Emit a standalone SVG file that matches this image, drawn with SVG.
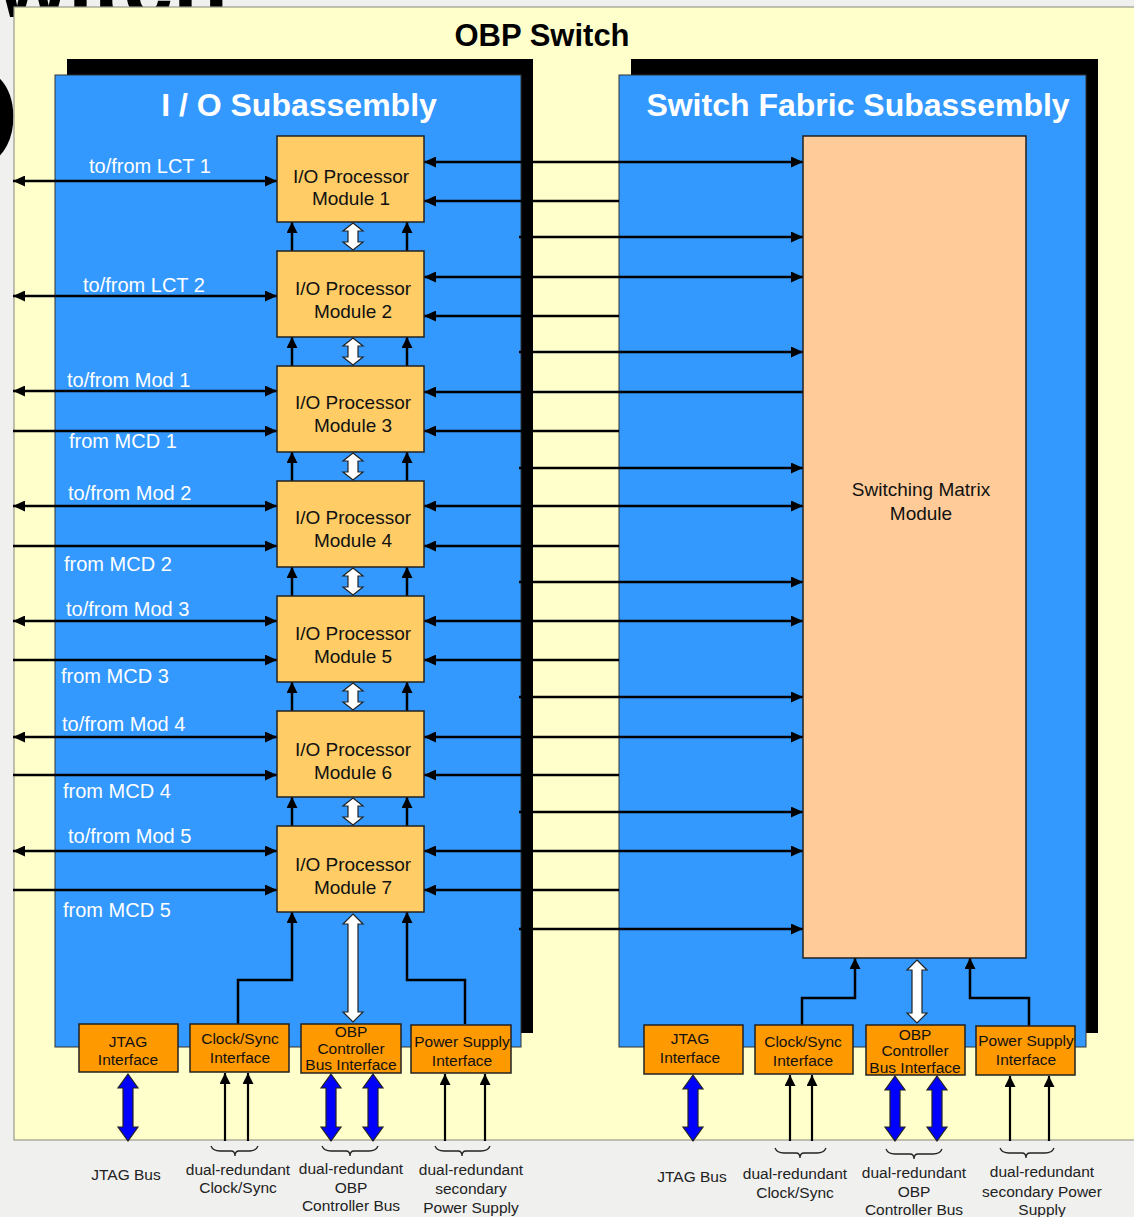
<svg xmlns="http://www.w3.org/2000/svg" width="1134" height="1217" viewBox="0 0 1134 1217">
<style>
text{font-family:"Liberation Sans",Arial,sans-serif}
.ln{stroke:#000;stroke-width:2.5;fill:none}
.lnt{stroke:#000;stroke-width:2.2;fill:none}
.panel{fill:#3399FF;stroke:#333;stroke-width:1}
.shadow{fill:#000}
.mod{fill:#FFCC66;stroke:#222;stroke-width:1.5}
.ifc{fill:#FF9900;stroke:#222;stroke-width:1.5}
.mt{font-size:19px;fill:#111;text-anchor:middle}
.it{font-size:15.5px;fill:#111;text-anchor:middle}
.lbl{font-size:20px;fill:#fff}
.bl{font-size:15.5px;fill:#222;text-anchor:middle}
.wa{fill:#fff;stroke:#222;stroke-width:1.2}
.ba{fill:#0000FF;stroke:#222;stroke-width:1.2}
.br{fill:none;stroke:#222;stroke-width:1.3}
</style>
<defs>
<marker id="ah" viewBox="0 0 12 11" refX="12" refY="5.5" markerWidth="12" markerHeight="11" markerUnits="userSpaceOnUse" orient="auto-start-reverse"><path d="M0,0 L12,5.5 L0,11 z" fill="#000"/></marker>
<marker id="ahs" viewBox="0 0 11 11" refX="11" refY="5.5" markerWidth="11" markerHeight="11" markerUnits="userSpaceOnUse" orient="auto-start-reverse"><path d="M0,0 L11,5.5 L0,11 z" fill="#000"/></marker>
</defs>
<rect x="0" y="0" width="1134" height="1217" fill="#F0F0EF"/>
<text x="-2" y="17" font-size="90" font-weight="bold" fill="#000">witch</text>
<text x="-97" y="170" font-size="150" font-weight="bold" fill="#000">O</text>
<rect x="14" y="7" width="1130" height="1133" fill="#FFFFCC" stroke="#9a9a8a" stroke-width="1.2"/>
<text x="542" y="46" font-size="31" font-weight="bold" fill="#000" text-anchor="middle">OBP Switch</text>

<g id="io-subassembly">
<rect class="shadow" x="67" y="59" width="466" height="974"/>
<rect class="panel" x="55" y="75" width="466" height="972"/>
<text x="299" y="116" font-size="32" font-weight="bold" fill="#fff" text-anchor="middle">I / O Subassembly</text>
</g>
<g id="switch-fabric-subassembly">
<rect class="shadow" x="631" y="59" width="467" height="974"/>
<rect class="panel" x="619" y="75" width="467" height="972"/>
<text x="858" y="116" font-size="32" font-weight="bold" fill="#fff" text-anchor="middle">Switch Fabric Subassembly</text>
</g>

<g id="side-labels">
<text class="lbl" x="89" y="173">to/from LCT 1</text>
<text class="lbl" x="83" y="292">to/from LCT 2</text>
<text class="lbl" x="67" y="387">to/from Mod 1</text>
<text class="lbl" x="69" y="448">from MCD 1</text>
<text class="lbl" x="68" y="500">to/from Mod 2</text>
<text class="lbl" x="64" y="571">from MCD 2</text>
<text class="lbl" x="66" y="616">to/from Mod 3</text>
<text class="lbl" x="61" y="683">from MCD 3</text>
<text class="lbl" x="62" y="731">to/from Mod 4</text>
<text class="lbl" x="63" y="798">from MCD 4</text>
<text class="lbl" x="68" y="843">to/from Mod 5</text>
<text class="lbl" x="63" y="917">from MCD 5</text>
</g>

<g id="connectors">
<!-- left external lines -->
<line class="ln" x1="13" y1="181" x2="277" y2="181" marker-start="url(#ah)" marker-end="url(#ah)"/>
<line class="ln" x1="13" y1="296" x2="277" y2="296" marker-start="url(#ah)" marker-end="url(#ah)"/>
<line class="ln" x1="13" y1="391" x2="277" y2="391" marker-start="url(#ah)" marker-end="url(#ah)"/>
<line class="ln" x1="13" y1="431" x2="277" y2="431" marker-end="url(#ah)"/>
<line class="ln" x1="13" y1="506" x2="277" y2="506" marker-start="url(#ah)" marker-end="url(#ah)"/>
<line class="ln" x1="13" y1="546" x2="277" y2="546" marker-end="url(#ah)"/>
<line class="ln" x1="13" y1="621" x2="277" y2="621" marker-start="url(#ah)" marker-end="url(#ah)"/>
<line class="ln" x1="13" y1="660" x2="277" y2="660" marker-end="url(#ah)"/>
<line class="ln" x1="13" y1="737" x2="277" y2="737" marker-start="url(#ah)" marker-end="url(#ah)"/>
<line class="ln" x1="13" y1="775" x2="277" y2="775" marker-end="url(#ah)"/>
<line class="ln" x1="13" y1="851" x2="277" y2="851" marker-start="url(#ah)" marker-end="url(#ah)"/>
<line class="ln" x1="13" y1="890" x2="277" y2="890" marker-end="url(#ah)"/>
<!-- module to switch matrix -->
<line class="ln" x1="424" y1="162" x2="803" y2="162" marker-start="url(#ah)" marker-end="url(#ah)"/>
<line class="ln" x1="619" y1="201" x2="424" y2="201" marker-end="url(#ah)"/>
<line class="ln" x1="519" y1="237" x2="803" y2="237" marker-end="url(#ah)"/>
<line class="ln" x1="424" y1="277" x2="803" y2="277" marker-start="url(#ah)" marker-end="url(#ah)"/>
<line class="ln" x1="619" y1="316" x2="424" y2="316" marker-end="url(#ah)"/>
<line class="ln" x1="519" y1="352" x2="803" y2="352" marker-end="url(#ah)"/>
<line class="ln" x1="803" y1="392" x2="424" y2="392" marker-end="url(#ah)"/>
<line class="ln" x1="619" y1="431" x2="424" y2="431" marker-end="url(#ah)"/>
<line class="ln" x1="519" y1="468" x2="803" y2="468" marker-end="url(#ah)"/>
<line class="ln" x1="424" y1="506" x2="803" y2="506" marker-start="url(#ah)" marker-end="url(#ah)"/>
<line class="ln" x1="619" y1="546" x2="424" y2="546" marker-end="url(#ah)"/>
<line class="ln" x1="519" y1="582" x2="803" y2="582" marker-end="url(#ah)"/>
<line class="ln" x1="424" y1="621" x2="803" y2="621" marker-start="url(#ah)" marker-end="url(#ah)"/>
<line class="ln" x1="619" y1="660" x2="424" y2="660" marker-end="url(#ah)"/>
<line class="ln" x1="519" y1="697" x2="803" y2="697" marker-end="url(#ah)"/>
<line class="ln" x1="424" y1="737" x2="803" y2="737" marker-start="url(#ah)" marker-end="url(#ah)"/>
<line class="ln" x1="619" y1="775" x2="424" y2="775" marker-end="url(#ah)"/>
<line class="ln" x1="519" y1="812" x2="803" y2="812" marker-end="url(#ah)"/>
<line class="ln" x1="424" y1="851" x2="803" y2="851" marker-start="url(#ah)" marker-end="url(#ah)"/>
<line class="ln" x1="619" y1="890" x2="424" y2="890" marker-end="url(#ah)"/>
<line class="ln" x1="519" y1="929" x2="803" y2="929" marker-end="url(#ah)"/>
<!-- between modules -->
<line class="ln" x1="292" y1="251" x2="292" y2="222" marker-end="url(#ahs)"/>
<line class="ln" x1="407" y1="251" x2="407" y2="222" marker-end="url(#ahs)"/>
<line class="ln" x1="292" y1="366" x2="292" y2="337" marker-end="url(#ahs)"/>
<line class="ln" x1="407" y1="366" x2="407" y2="337" marker-end="url(#ahs)"/>
<line class="ln" x1="292" y1="481" x2="292" y2="452" marker-end="url(#ahs)"/>
<line class="ln" x1="407" y1="481" x2="407" y2="452" marker-end="url(#ahs)"/>
<line class="ln" x1="292" y1="596" x2="292" y2="567" marker-end="url(#ahs)"/>
<line class="ln" x1="407" y1="596" x2="407" y2="567" marker-end="url(#ahs)"/>
<line class="ln" x1="292" y1="711" x2="292" y2="682" marker-end="url(#ahs)"/>
<line class="ln" x1="407" y1="711" x2="407" y2="682" marker-end="url(#ahs)"/>
<line class="ln" x1="292" y1="826" x2="292" y2="797" marker-end="url(#ahs)"/>
<line class="ln" x1="407" y1="826" x2="407" y2="797" marker-end="url(#ahs)"/>
<polygon class="wa" points="353,223 363,231 358,231 358,242 363,242 353,250 343,242 348,242 348,231 343,231"/>
<polygon class="wa" points="353,338 363,346 358,346 358,357 363,357 353,365 343,357 348,357 348,346 343,346"/>
<polygon class="wa" points="353,453 363,461 358,461 358,472 363,472 353,480 343,472 348,472 348,461 343,461"/>
<polygon class="wa" points="353,568 363,576 358,576 358,587 363,587 353,595 343,587 348,587 348,576 343,576"/>
<polygon class="wa" points="353,683 363,691 358,691 358,702 363,702 353,710 343,702 348,702 348,691 343,691"/>
<polygon class="wa" points="353,798 363,806 358,806 358,817 363,817 353,825 343,817 348,817 348,806 343,806"/>
<!-- interfaces to module 7 / matrix -->
<path class="ln" d="M238,1024 V980 H292 V912" marker-end="url(#ahs)"/>
<path class="ln" d="M465,1024 V980 H407 V912" marker-end="url(#ahs)"/>
<polygon class="wa" points="353,914 363,924 358,924 358,1012 363,1012 353,1022 343,1012 348,1012 348,924 343,924"/>
<path class="ln" d="M802,1025 V998 H855 V958" marker-end="url(#ahs)"/>
<path class="ln" d="M1029,1026 V998 H970 V958" marker-end="url(#ahs)"/>
<polygon class="wa" points="917,960 927,970 922,970 922,1013 927,1013 917,1023 907,1013 912,1013 912,970 907,970"/>
<!-- external bottom arrows -->
<polygon class="ba" points="128,1074 138,1088 133,1088 133,1127 138,1127 128,1141 118,1127 123,1127 123,1088 118,1088"/>
<line class="lnt" x1="225" y1="1141" x2="225" y2="1073" marker-end="url(#ahs)"/>
<line class="lnt" x1="248" y1="1141" x2="248" y2="1073" marker-end="url(#ahs)"/>
<polygon class="ba" points="331,1074 341,1088 336,1088 336,1127 341,1127 331,1141 321,1127 326,1127 326,1088 321,1088"/>
<polygon class="ba" points="373,1074 383,1088 378,1088 378,1127 383,1127 373,1141 363,1127 368,1127 368,1088 363,1088"/>
<line class="lnt" x1="445" y1="1141" x2="445" y2="1074" marker-end="url(#ahs)"/>
<line class="lnt" x1="485" y1="1141" x2="485" y2="1074" marker-end="url(#ahs)"/>
<polygon class="ba" points="693,1075 703,1089 698,1089 698,1127 703,1127 693,1141 683,1127 688,1127 688,1089 683,1089"/>
<line class="lnt" x1="790" y1="1141" x2="790" y2="1075" marker-end="url(#ahs)"/>
<line class="lnt" x1="812" y1="1141" x2="812" y2="1075" marker-end="url(#ahs)"/>
<polygon class="ba" points="895,1076 905,1090 900,1090 900,1127 905,1127 895,1141 885,1127 890,1127 890,1090 885,1090"/>
<polygon class="ba" points="937,1076 947,1090 942,1090 942,1127 947,1127 937,1141 927,1127 932,1127 932,1090 927,1090"/>
<line class="lnt" x1="1010" y1="1141" x2="1010" y2="1076" marker-end="url(#ahs)"/>
<line class="lnt" x1="1049" y1="1141" x2="1049" y2="1076" marker-end="url(#ahs)"/>
<!-- braces -->
<path class="br" d="M211,1146 Q213,1151 220,1151 L231,1151 Q235,1151 235,1156 Q235,1151 239,1151 L250,1151 Q256,1151 258,1146"/>
<path class="br" d="M322,1146 Q324,1151 331,1151 L346,1151 Q350,1151 350,1156 Q350,1151 354,1151 L369,1151 Q376,1151 378,1146"/>
<path class="br" d="M435,1146 Q437,1151 444,1151 L458,1151 Q462,1151 462,1156 Q462,1151 466,1151 L481,1151 Q488,1151 490,1146"/>
<path class="br" d="M775,1148 Q777,1153 784,1153 L796,1153 Q800,1153 800,1158 Q800,1153 804,1153 L817,1153 Q824,1153 826,1148"/>
<path class="br" d="M886,1149 Q888,1154 895,1154 L910,1154 Q914,1154 914,1159 Q914,1154 918,1154 L933,1154 Q940,1154 942,1149"/>
<path class="br" d="M1000,1148 Q1002,1153 1009,1153 L1022,1153 Q1026,1153 1026,1158 Q1026,1153 1030,1153 L1045,1153 Q1052,1153 1054,1148"/>
</g>

<g id="io-module-1"><rect class="mod" x="277" y="136" width="147" height="86"/><text class="mt" x="351" y="183">I/O Processor</text><text class="mt" x="351" y="205">Module 1</text></g>
<g id="io-module-2"><rect class="mod" x="277" y="251" width="147" height="86"/><text class="mt" x="353" y="295">I/O Processor</text><text class="mt" x="353" y="318">Module 2</text></g>
<g id="io-module-3"><rect class="mod" x="277" y="366" width="147" height="86"/><text class="mt" x="353" y="409">I/O Processor</text><text class="mt" x="353" y="432">Module 3</text></g>
<g id="io-module-4"><rect class="mod" x="277" y="481" width="147" height="86"/><text class="mt" x="353" y="524">I/O Processor</text><text class="mt" x="353" y="547">Module 4</text></g>
<g id="io-module-5"><rect class="mod" x="277" y="596" width="147" height="86"/><text class="mt" x="353" y="640">I/O Processor</text><text class="mt" x="353" y="663">Module 5</text></g>
<g id="io-module-6"><rect class="mod" x="277" y="711" width="147" height="86"/><text class="mt" x="353" y="756">I/O Processor</text><text class="mt" x="353" y="779">Module 6</text></g>
<g id="io-module-7"><rect class="mod" x="277" y="826" width="147" height="86"/><text class="mt" x="353" y="871">I/O Processor</text><text class="mt" x="353" y="894">Module 7</text></g>

<g id="switching-matrix"><rect x="803" y="136" width="223" height="822" fill="#FFCC99" stroke="#222" stroke-width="1.5"/><text class="mt" x="921" y="496">Switching Matrix</text><text class="mt" x="921" y="520">Module</text></g>

<g id="io-jtag"><rect class="ifc" x="79" y="1024" width="99" height="48"/><text class="it" x="128" y="1047">JTAG</text><text class="it" x="128" y="1065">Interface</text></g>
<g id="io-clock"><rect class="ifc" x="190" y="1024" width="99" height="48"/><text class="it" x="240" y="1044">Clock/Sync</text><text class="it" x="240" y="1063">Interface</text></g>
<g id="io-obp"><rect class="ifc" x="301" y="1024" width="100" height="49"/><text class="it" x="351" y="1037">OBP</text><text class="it" x="351" y="1054">Controller</text><text class="it" x="351" y="1070">Bus Interface</text></g>
<g id="io-power"><rect class="ifc" x="411" y="1025" width="100" height="48"/><text class="it" x="462" y="1047">Power Supply</text><text class="it" x="462" y="1066">Interface</text></g>

<g id="sf-jtag"><rect class="ifc" x="644" y="1025" width="99" height="49"/><text class="it" x="690" y="1044">JTAG</text><text class="it" x="690" y="1063">Interface</text></g>
<g id="sf-clock"><rect class="ifc" x="755" y="1025" width="98" height="49"/><text class="it" x="803" y="1047">Clock/Sync</text><text class="it" x="803" y="1066">Interface</text></g>
<g id="sf-obp"><rect class="ifc" x="866" y="1025" width="99" height="50"/><text class="it" x="915" y="1040">OBP</text><text class="it" x="915" y="1056">Controller</text><text class="it" x="915" y="1073">Bus Interface</text></g>
<g id="sf-power"><rect class="ifc" x="976" y="1026" width="99" height="49"/><text class="it" x="1026" y="1046">Power Supply</text><text class="it" x="1026" y="1065">Interface</text></g>

<g id="bottom-labels">
<text class="bl" x="126" y="1180">JTAG Bus</text>
<text class="bl" x="238" y="1175">dual-redundant</text><text class="bl" x="238" y="1193">Clock/Sync</text>
<text class="bl" x="351" y="1174">dual-redundant</text><text class="bl" x="351" y="1193">OBP</text><text class="bl" x="351" y="1211">Controller Bus</text>
<text class="bl" x="471" y="1175">dual-redundant</text><text class="bl" x="471" y="1194">secondary</text><text class="bl" x="471" y="1213">Power Supply</text>
<text class="bl" x="692" y="1182">JTAG Bus</text>
<text class="bl" x="795" y="1179">dual-redundant</text><text class="bl" x="795" y="1198">Clock/Sync</text>
<text class="bl" x="914" y="1178">dual-redundant</text><text class="bl" x="914" y="1197">OBP</text><text class="bl" x="914" y="1215">Controller Bus</text>
<text class="bl" x="1042" y="1177">dual-redundant</text><text class="bl" x="1042" y="1197">secondary Power</text><text class="bl" x="1042" y="1215">Supply</text>
</g>
</svg>
